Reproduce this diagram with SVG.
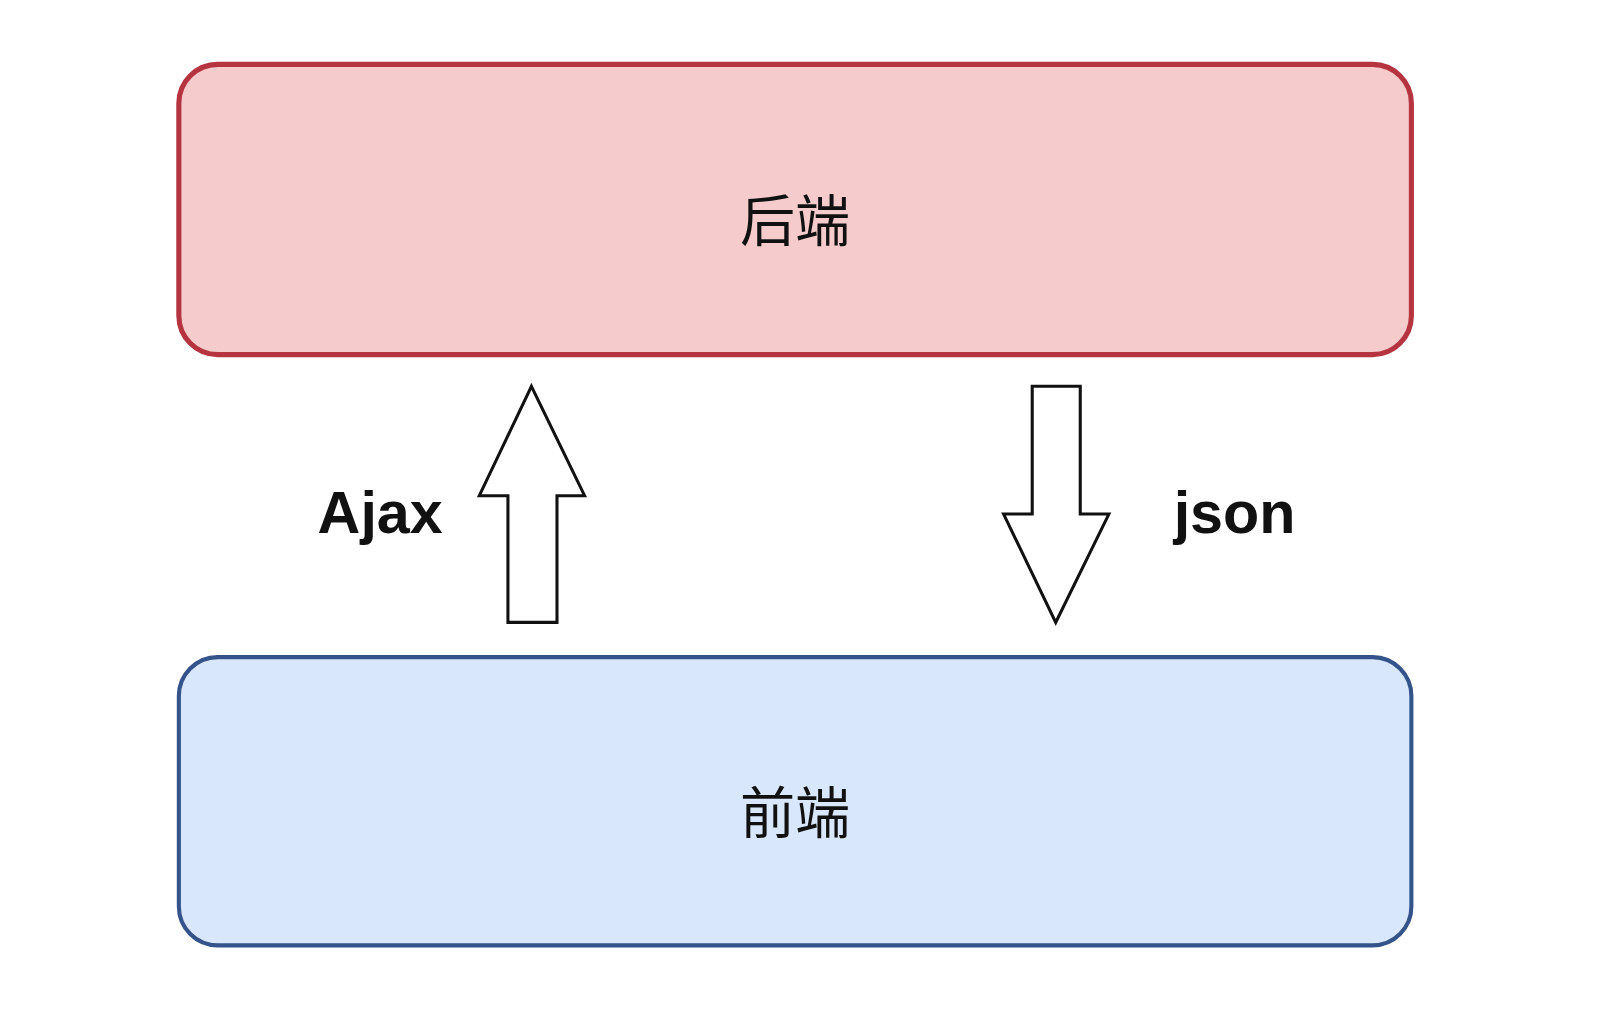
<svg xmlns="http://www.w3.org/2000/svg" width="1600" height="1016" viewBox="0 0 1600 1016">
<style>
.lbl{font-family:"Liberation Sans","Noto Sans CJK SC",sans-serif;font-size:54px;fill:#111;text-anchor:middle}
.ed{font-family:"Liberation Sans",sans-serif;font-size:58px;font-weight:bold;fill:#111;text-anchor:middle}
.arr{fill:#fff;stroke:#111;stroke-width:3;stroke-linejoin:miter}
</style>
<rect width="1600" height="1016" fill="#fff"/>
<g transform="scale(1.022)">
<g id="backend">
<rect x="175" y="63" width="1206" height="284" rx="38" fill="#f5cccb" stroke="#b5343f" stroke-width="5"/>
<text class="lbl" x="778" y="236">后端</text>
</g>
<g id="frontend">
<rect x="175" y="643" width="1206" height="282" rx="38" fill="#d8e7fb" stroke="#34538a" stroke-width="4"/>
<text class="lbl" x="778" y="815">前端</text>
</g>
<g id="connectors">
<polygon class="arr" points="520,378 572,485 545,485 545,609 497,609 497,485 469,485"/>
<polygon class="arr" points="1010,378 1057,378 1057,503 1085,503 1033,609 982,503 1010,503"/>
<text class="ed" x="372" y="522">Ajax</text>
<text class="ed" x="1208" y="522">json</text>
</g>
</g>
</svg>
